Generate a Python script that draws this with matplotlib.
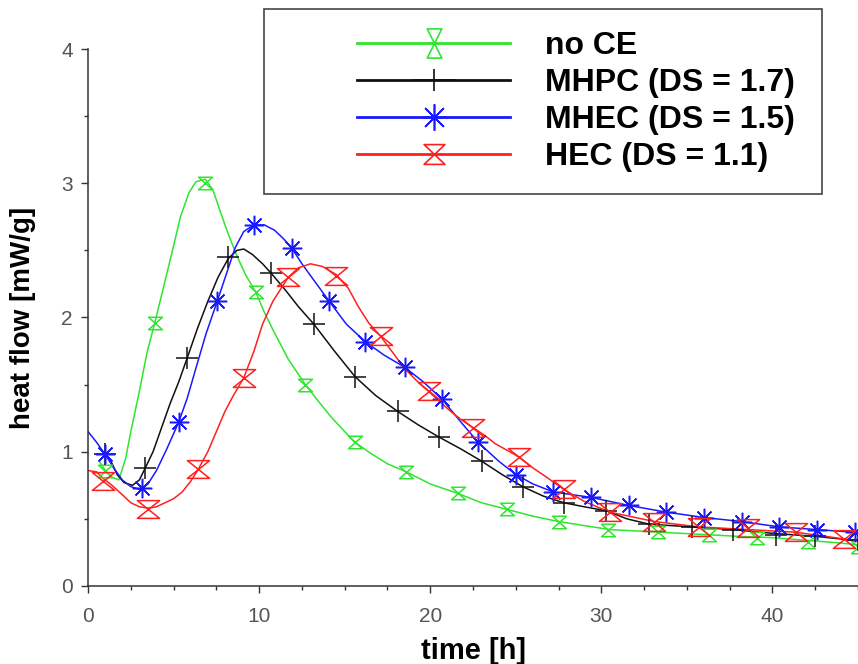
import numpy as np
import matplotlib
matplotlib.use("Agg")
import matplotlib.pyplot as plt
from matplotlib.path import Path
from matplotlib.lines import Line2D
from matplotlib.patches import Rectangle
from matplotlib.ticker import MultipleLocator

# heat flow curves (time in h, heat flow in mW/g)
noce_t = [0.7, 1.0, 1.4, 1.8, 2.2, 2.5, 3.0, 3.45, 3.9, 4.4, 4.9, 5.4, 5.9, 6.3,
          6.85, 7.3, 7.7, 8.2, 8.7, 9.2, 9.8, 10.3, 10.8, 11.7, 12.7, 13.5, 14.2,
          15.0, 15.6, 16.5, 17.5, 18.6, 20.0, 21.6, 23.0, 24.5, 26.0, 27.5, 29.0,
          30.5, 32.0, 33.5, 35.0, 36.5, 38.0, 40.0, 42.0, 44.0, 45.5]
noce_q = [0.92, 0.86, 0.81, 0.79, 0.95, 1.15, 1.45, 1.74, 1.96, 2.22, 2.48, 2.75,
          2.93, 3.01, 3.03, 2.95, 2.80, 2.62, 2.46, 2.32, 2.19, 2.04, 1.91, 1.69,
          1.50, 1.37, 1.26, 1.15, 1.07, 0.99, 0.91, 0.85, 0.76, 0.69, 0.62, 0.57,
          0.52, 0.48, 0.45, 0.42, 0.41, 0.40, 0.39, 0.38, 0.37, 0.36, 0.34, 0.32,
          0.30]
noce_mt = [1.0, 3.9, 6.85, 9.8, 12.7, 15.6, 18.6, 21.6, 24.5, 27.5, 30.4, 33.3,
           36.3, 39.1, 42.1, 45.0]
noce_mq = [0.86, 1.96, 3.0, 2.19, 1.50, 1.07, 0.85, 0.69, 0.57, 0.48, 0.42, 0.40,
           0.38, 0.36, 0.33, 0.29]

mhpc_t = [0.9, 1.3, 1.7, 2.1, 2.6, 3.0, 3.35, 3.8, 4.3, 4.8, 5.3, 5.8, 6.4, 7.0,
          7.6, 8.2, 8.7, 9.1, 9.6, 10.2, 10.7, 11.5, 12.3, 13.2, 14.4, 15.6, 16.8,
          18.1, 19.3, 20.5, 21.8, 23.0, 24.2, 25.4, 26.6, 27.8, 29.0, 30.3, 31.5,
          32.8, 35.3, 37.7, 40.2, 42.5, 45.5]
mhpc_q = [1.00, 0.94, 0.83, 0.77, 0.75, 0.79, 0.88, 1.00, 1.18, 1.36, 1.52, 1.70,
          1.92, 2.12, 2.30, 2.44, 2.50, 2.51, 2.47, 2.40, 2.33, 2.21, 2.08, 1.95,
          1.75, 1.56, 1.42, 1.30, 1.20, 1.11, 1.02, 0.93, 0.83, 0.74, 0.67, 0.62,
          0.59, 0.56, 0.50, 0.46, 0.44, 0.42, 0.39, 0.37, 0.33]
mhpc_mt = [1.0, 3.35, 5.8, 8.2, 10.7, 13.2, 15.6, 18.1, 20.5, 23.0, 25.4, 27.8,
           30.3, 32.8, 35.3, 37.7, 40.2, 42.5, 45.0]
mhpc_mq = [0.98, 0.88, 1.70, 2.45, 2.33, 1.95, 1.56, 1.30, 1.11, 0.93, 0.74, 0.62,
           0.56, 0.46, 0.44, 0.42, 0.38, 0.37, 0.34]

mhec_t = [0.0, 0.5, 1.0, 1.5, 2.0, 2.5, 3.0, 3.5, 4.0, 4.6, 5.3, 5.8, 6.3, 6.9,
          7.55, 8.1, 8.6, 9.1, 9.7, 10.3, 10.9, 11.4, 11.9, 12.5, 13.3, 14.1,
          15.1, 16.2, 17.3, 18.5, 19.6, 20.7, 21.8, 22.8, 24.0, 25.0, 26.0, 27.2,
          28.3, 29.4, 31.6, 33.8, 36.0, 38.2, 40.4, 42.6, 44.8, 45.5]
mhec_q = [1.15, 1.07, 0.98, 0.88, 0.79, 0.74, 0.72, 0.76, 0.86, 1.02, 1.22, 1.40,
          1.62, 1.88, 2.12, 2.33, 2.52, 2.64, 2.69, 2.69, 2.65, 2.59, 2.52, 2.40,
          2.26, 2.12, 1.95, 1.82, 1.72, 1.63, 1.52, 1.39, 1.22, 1.07, 0.93, 0.83,
          0.76, 0.70, 0.68, 0.66, 0.60, 0.55, 0.51, 0.48, 0.44, 0.42, 0.40, 0.39]
mhec_mt = [1.0, 3.15, 5.3, 7.55, 9.7, 11.9, 14.1, 16.2, 18.5, 20.7, 22.8, 25.0,
           27.2, 29.4, 31.6, 33.8, 36.0, 38.2, 40.4, 42.6, 44.8]
mhec_mq = [0.98, 0.73, 1.22, 2.12, 2.69, 2.52, 2.12, 1.82, 1.63, 1.39, 1.07, 0.83,
           0.70, 0.66, 0.60, 0.55, 0.51, 0.48, 0.44, 0.42, 0.40]

hec_t = [0.0, 0.5, 0.9, 1.4, 2.0, 2.5, 3.0, 3.5, 4.0, 4.5, 5.0, 5.5, 6.0, 6.4,
         7.0, 7.5, 8.0, 8.5, 9.1, 9.7, 10.2, 10.8, 11.3, 11.7, 12.3, 13.0, 13.7,
         14.5, 15.2, 15.8, 16.4, 17.1, 17.8, 18.5, 19.2, 19.9, 20.5, 21.2, 21.8,
         22.5, 23.2, 23.8, 24.5, 25.2, 26.0, 26.8, 27.8, 29.0, 30.5, 33.1, 35.7,
         38.6, 41.4, 44.2, 45.5]
hec_q = [0.86, 0.85, 0.80, 0.75, 0.68, 0.62, 0.59, 0.58, 0.59, 0.62, 0.65, 0.70,
         0.78, 0.86, 1.00, 1.15, 1.30, 1.42, 1.55, 1.75, 1.95, 2.12, 2.22, 2.30,
         2.37, 2.40, 2.38, 2.32, 2.22, 2.08, 1.96, 1.86, 1.74, 1.62, 1.53, 1.45,
         1.38, 1.30, 1.24, 1.18, 1.12, 1.06, 1.01, 0.96, 0.88, 0.81, 0.72, 0.63,
         0.55, 0.48, 0.44, 0.42, 0.40, 0.35, 0.33]
hec_mt = [0.9, 3.5, 6.4, 9.1, 11.7, 14.5, 17.1, 19.9, 22.5, 25.2, 27.8, 30.5,
          33.1, 35.7, 38.6, 41.4, 44.2]
hec_mq = [0.78, 0.57, 0.87, 1.55, 2.30, 2.31, 1.86, 1.45, 1.18, 0.96, 0.72, 0.55,
          0.48, 0.44, 0.43, 0.40, 0.35]

labels = ["no CE", "MHPC (DS = 1.7)", "MHEC (DS = 1.5)", "HEC (DS = 1.1)"]
colors = ["#2ee62e", "#111111", "#1a1aff", "#ff1f1f"]

# open hourglass markers (two triangles tip to tip)
def hourglass(w, h):
    return Path([(-w, h), (w, h), (-w, -h), (w, -h), (-w, h)],
                [Path.MOVETO, Path.LINETO, Path.LINETO, Path.LINETO, Path.CLOSEPOLY])

wide_plus = Path([(-1, 0), (1, 0), (0, -0.52), (0, 0.52)],
                 [Path.MOVETO, Path.LINETO, Path.MOVETO, Path.LINETO])

series = [
    (noce_t, noce_q, noce_mt, noce_mq, hourglass(1, 0.9), 10),
    (mhpc_t, mhpc_q, mhpc_mt, mhpc_mq, "+", 16),
    (mhec_t, mhec_q, mhec_mt, mhec_mq, (8, 2, 0), 14),
    (hec_t, hec_q, hec_mt, hec_mq, hourglass(1, 0.8), 16),
]

plt.rcParams["font.family"] = ["Liberation Sans", "DejaVu Sans"]

fig = plt.figure(figsize=(8.58, 6.64), dpi=100)
ax = fig.add_axes([0.1026, 0.1175, 0.8974, 0.8087])

for (t, q, mt, mq, mk, ms), c in zip(series, colors):
    ax.plot(t, q, color=c, lw=1.1, zorder=2)
    ax.plot(mt, mq, ls="none", marker=mk, ms=ms, mec=c, mfc="none",
            mew=1.1, zorder=3)

ax.set_xlim(0, 45)
ax.set_ylim(0, 4)
ax.xaxis.set_major_locator(MultipleLocator(10))
ax.xaxis.set_minor_locator(MultipleLocator(2.5))
ax.yaxis.set_major_locator(MultipleLocator(1))
ax.yaxis.set_minor_locator(MultipleLocator(0.5))

for side in ["top", "right"]:
    ax.spines[side].set_visible(False)
for side in ["left", "bottom"]:
    ax.spines[side].set_color("#333333")
    ax.spines[side].set_linewidth(1.1)

ax.tick_params(which="major", length=5, width=1.0, color="#333333",
               labelsize=15, labelcolor="#555555")
ax.tick_params(which="minor", length=3, width=1.0, color="#333333")
ax.tick_params(axis="x", which="major", pad=10)
ax.tick_params(axis="y", which="major", pad=6)

ax.set_xlabel("time [h]", fontsize=21, fontweight="bold", labelpad=8)
ax.set_ylabel("heat flow [mW/g]", fontsize=20, fontweight="bold", labelpad=18)

# legend entries with their own marker shapes
leg_markers = [(hourglass(0.5, 1), 21), (wide_plus, 31), ((8, 2, 0), 19),
               (hourglass(1, 0.95), 15)]
handles = [Line2D([], [], color=c, lw=2.0, marker=mk, ms=ms, mec=c,
                  mfc="none", mew=1.2)
           for c, (mk, ms) in zip(colors, leg_markers)]
fig.legend(handles, labels, loc="upper left", bbox_to_anchor=(357 / 858, 0.953),
           frameon=False, borderpad=0, borderaxespad=0, handlelength=4.8,
           handletextpad=1.1, labelspacing=0.22,
           prop={"size": 23, "weight": "bold"})
fig.add_artist(Rectangle((264 / 858, 1 - 194 / 664), 558 / 858, 185 / 664,
                         transform=fig.transFigure, fill=False,
                         ec="#444444", lw=1.2))

fig.savefig("out.png", dpi=100)
